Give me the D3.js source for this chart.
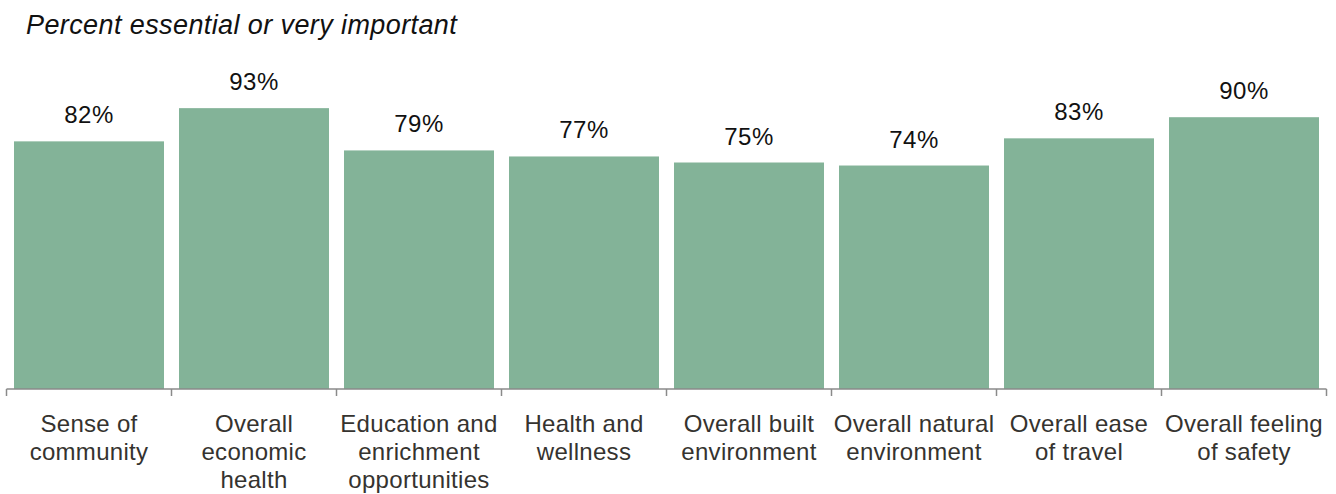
<!DOCTYPE html>
<html>
<head>
<meta charset="utf-8">
<script src="https://cdn.jsdelivr.net/npm/d3@7"></script>
<style>
body { margin: 0; background: #fff; }
</style>
</head>
<body>
<div id="chart"></div>
<script>
// data
var categories = ["Sense of\ncommunity", "Overall\neconomic\nhealth", "Education and\nenrichment\nopportunities",
    "Health and\nwellness", "Overall built\nenvironment", "Overall natural\nenvironment",
    "Overall ease\nof travel", "Overall feeling\nof safety"]
var values = [82, 93, 79, 77, 75, 74, 83, 90]
var title = "Percent essential or very important"

var width = 1336
var height = 494
var baseline = 389

var svg = d3.select("#chart")
    .append("svg")
    .attr("width", width)
    .attr("height", height)

var data = categories.map((c, i) => ({cat: c, value: values[i]}))

var xScale = d3.scaleBand()
    .domain(categories)
    .range([6.5, 1326.5])
    .paddingInner(0.091)
    .paddingOuter(0.0455)

var yScale = d3.scaleLinear()
    .domain([0, 100])
    .range([baseline, 87])

var font = "'Liberation Sans', Arial, sans-serif"

// title
svg.append("text")
    .attr("x", 26)
    .attr("y", 34)
    .attr("font-family", font)
    .attr("font-style", "italic")
    .attr("font-size", "27px")
    .attr("letter-spacing", "0.4px")
    .attr("fill", "#111")
    .text(title)

// bars
svg.selectAll("rect.bar")
    .data(data)
    .enter()
    .append("rect")
    .attr("class", "bar")
    .attr("x", d => xScale(d.cat))
    .attr("y", d => yScale(d.value))
    .attr("width", xScale.bandwidth())
    .attr("height", d => baseline - yScale(d.value))
    .attr("fill", "#83b398")

// value labels
svg.selectAll("text.val")
    .data(data)
    .enter()
    .append("text")
    .attr("class", "val")
    .attr("x", d => xScale(d.cat) + xScale.bandwidth() / 2)
    .attr("y", d => yScale(d.value) - 18)
    .attr("text-anchor", "middle")
    .attr("font-family", font)
    .attr("font-size", "24px")
    .attr("letter-spacing", "0.5px")
    .attr("fill", "#111")
    .text(d => d.value + "%")

// axis line + ticks at band boundaries
var step = xScale.step()
var left = xScale.range()[0]
var axis = svg.append("g").attr("stroke", "#8a8a8a").attr("stroke-width", 1.5)
axis.append("line")
    .attr("x1", left).attr("x2", xScale.range()[1])
    .attr("y1", baseline).attr("y2", baseline)
axis.selectAll("line.tick")
    .data(d3.range(categories.length + 1))
    .enter()
    .append("line")
    .attr("class", "tick")
    .attr("x1", i => left + i * step).attr("x2", i => left + i * step)
    .attr("y1", baseline).attr("y2", baseline + 7)

// category labels, one text per line
var cx = d => xScale(d.cat) + xScale.bandwidth() / 2
var lines = []
data.forEach(d => d.cat.split("\n").forEach((t, i) => lines.push({t: t, x: cx(d), row: i})))

svg.selectAll("text.cat")
    .data(lines)
    .enter()
    .append("text")
    .attr("class", "cat")
    .attr("x", d => d.x)
    .attr("y", d => 432 + d.row * 28)
    .attr("text-anchor", "middle")
    .attr("font-family", font)
    .attr("font-size", "24px")
    .attr("letter-spacing", "0.3px")
    .attr("fill", "#35332f")
    .text(d => d.t)
</script>
</body>
</html>
